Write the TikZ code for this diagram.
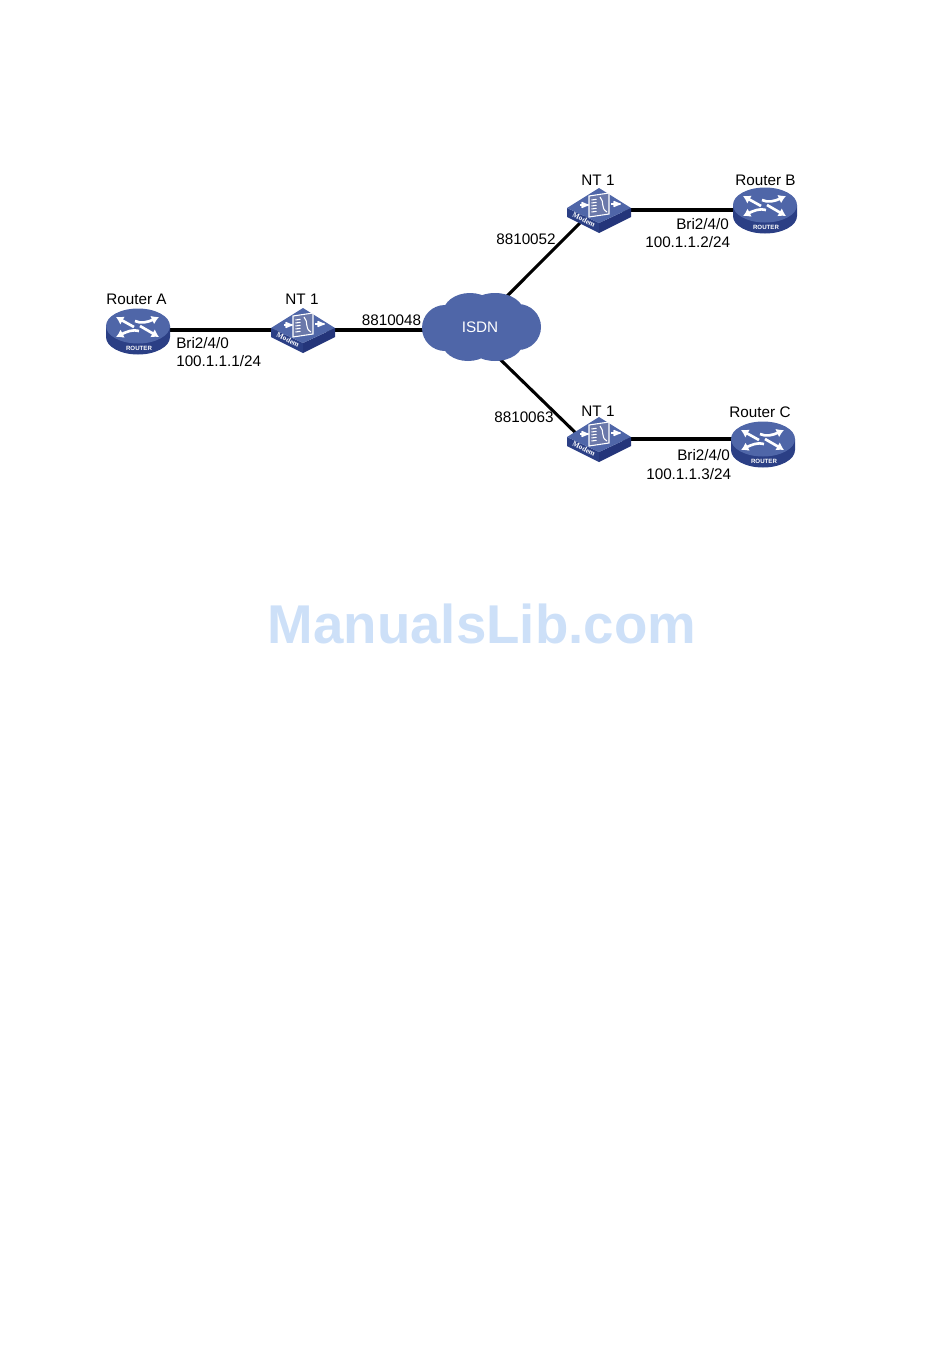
\documentclass[tikz,border=0pt]{standalone}
\usepackage{fontspec}
\setmainfont{Liberation Sans}
\newfontfamily\slabfont{Liberation Serif}
\usetikzlibrary{arrows.meta, backgrounds, calc}
\tikzset{>={Latex[round]}}
\definecolor{bluetop}{HTML}{4F66A8}
\definecolor{blueside}{HTML}{2B3F85}
\definecolor{bluedark}{HTML}{24357A}
\definecolor{watermark}{HTML}{CDE0F8}
\tikzset{
  routerpic/.pic={
    \fill[blueside] (-32,0) -- (-32,11) arc[start angle=180, end angle=0, x radius=32, y radius=17.5] -- (32,0) -- cycle;
    \fill[bluetop] (0,0) ellipse[x radius=32, y radius=17.5];
    % four crossing arrows on the top face
    \draw[routerarrow] (-4,1) -- (-22,-9);
    \draw[routerarrow] (2,0) -- (21,11);
    \draw[routerarrow] (-3,-5) .. controls (3,-2) and (10,-4) .. (21,-9);
    \draw[routerarrow] (1,5) .. controls (-5,3) and (-12,6) .. (-22,11);
    \node[text=white, font=\bfseries\fontsize{4.6}{5}\selectfont] (#1) at (1,22) {ROUTER};
  },
  modempic/.pic={
    \fill[blueside] (-32,0) -- (-32,9) -- (0,25) -- (0,15) -- cycle;
    \fill[bluedark] (32,0) -- (32,9) -- (0,25) -- (0,15) -- cycle;
    \fill[bluetop] (0,-20) -- (32,0) -- (0,15) -- (-32,0) -- cycle;
    % panel with the two arrows
    \draw[white, line width=0.8pt, fill=blueside!70!white] (-10,-12) -- (10,-15) -- (10,6) -- (-10,9) -- cycle;
    \foreach \tick in {-8,-5,-2,1,4}
      \draw[white, line width=0.8pt] (-7.5,\tick) -- (-2.5,\tick-0.7);
    \draw[white, line width=0.8pt] (1,-11) .. controls (6,-6) and (1,0) .. (8,4);
    \draw[modemarrow] (-19,-3) -- (-10,-3);
    \draw[modemarrow] (12,-4) -- (22,-4);
    \node[text=white, rotate=-27, font=\slabfont\bfseries\fontsize{5.6}{6}\selectfont] (#1) at (-15,11.5) {Modem};
  },
}
\begin{document}
\begin{tikzpicture}[
  x=0.75pt, y=-0.75pt,
  device/.style={inner sep=0pt, minimum size=2pt},
  link/.style={line width=2.3pt, black},
  routerarrow/.style={-{Latex[length=5.5pt, width=7pt]}, white, line width=2pt},
  modemarrow/.style={->, white, line width=0.9pt},
  labelstyle/.style={font=\fontsize{11.45}{13}\selectfont, inner sep=0pt},
  cloudtext/.style={text=white, font=\fontsize{11.45}{13}\selectfont, minimum width=75pt, minimum height=36pt, inner sep=0pt},
]
\useasboundingbox (0,0) rectangle (950,1356);

% Devices
\node[device] (RA) at (138,330) {};
\node[device] (RB) at (765,210) {};
\node[device] (RC) at (763,439) {};
\node[device] (NTA) at (303,330) {};
\node[device] (NTB) at (599,210) {};
\node[device] (NTC) at (599,439) {};
\node[cloudtext] (ISDN) at (480,327) {ISDN};
\coordinate (NTBport) at (590,213);
\coordinate (NTCport) at (585,442);

% Links and cloud go below the icons
\begin{pgfonlayer}{background}
\draw[link] (RA) -- (NTA);
\draw[link] (NTA) -- (NTA -| ISDN);
\draw[link] (ISDN.50) -- (NTBport);
\draw[link] (ISDN.-64) -- (NTCport);
\draw[link] (NTB) -- (RB);
\draw[link] (NTC) -- (RC);
\fill[bluetop] (445,328) ellipse[x radius=23, y radius=23]
  (518,327) ellipse[x radius=23, y radius=23]
  (470,313) ellipse[x radius=27, y radius=20]
  (495,313) ellipse[x radius=29, y radius=20]
  (468,342) ellipse[x radius=26, y radius=19]
  (495,342) ellipse[x radius=28, y radius=19]
  (481,327) ellipse[x radius=45, y radius=25];
\end{pgfonlayer}

% Icons
\pic at (138,326) {routerpic=RAtag};
\pic at (765,205) {routerpic=RBtag};
\pic at (763,439) {routerpic=RCtag};
\pic at (303,328) {modempic=NTAtag};
\pic at (599,208) {modempic=NTBtag};
\pic at (599,437) {modempic=NTCtag};

% Names
\node[labelstyle] (RAname) at (136.5,299) {Router A};
\node[labelstyle] (RBname) at (765.5,180) {Router B};
\node[labelstyle] (RCname) at (760,412) {Router C};
\node[labelstyle] (NTAname) at (302,299) {NT 1};
\node[labelstyle] (NTBname) at (598,180) {NT 1};
\node[labelstyle] (NTCname) at (598,411) {NT 1};

% Numbers
\node[labelstyle] (NumA) at (391.5,320) {8810048};
\node[labelstyle] (NumB) at (526,239) {8810052};
\node[labelstyle] (NumC) at (524,417) {8810063};

% Interfaces
\node[labelstyle, anchor=west] (IfA) at (176,343) {Bri2/4/0};
\node[labelstyle, anchor=west] (IpA) at (176,361) {100.1.1.1/24};
\node[labelstyle, anchor=west] (IfB) at (676,224) {Bri2/4/0};
\node[labelstyle, anchor=west] (IpB) at (645,242) {100.1.1.2/24};
\node[labelstyle, anchor=west] (IfC) at (677,455) {Bri2/4/0};
\node[labelstyle, anchor=west] (IpC) at (646,474) {100.1.1.3/24};

% Watermark
\node[text=watermark, font=\bfseries\fontsize{41}{45}\selectfont] (Mark) at (482,624) {ManualsLib.com};
\end{tikzpicture}
\end{document}
